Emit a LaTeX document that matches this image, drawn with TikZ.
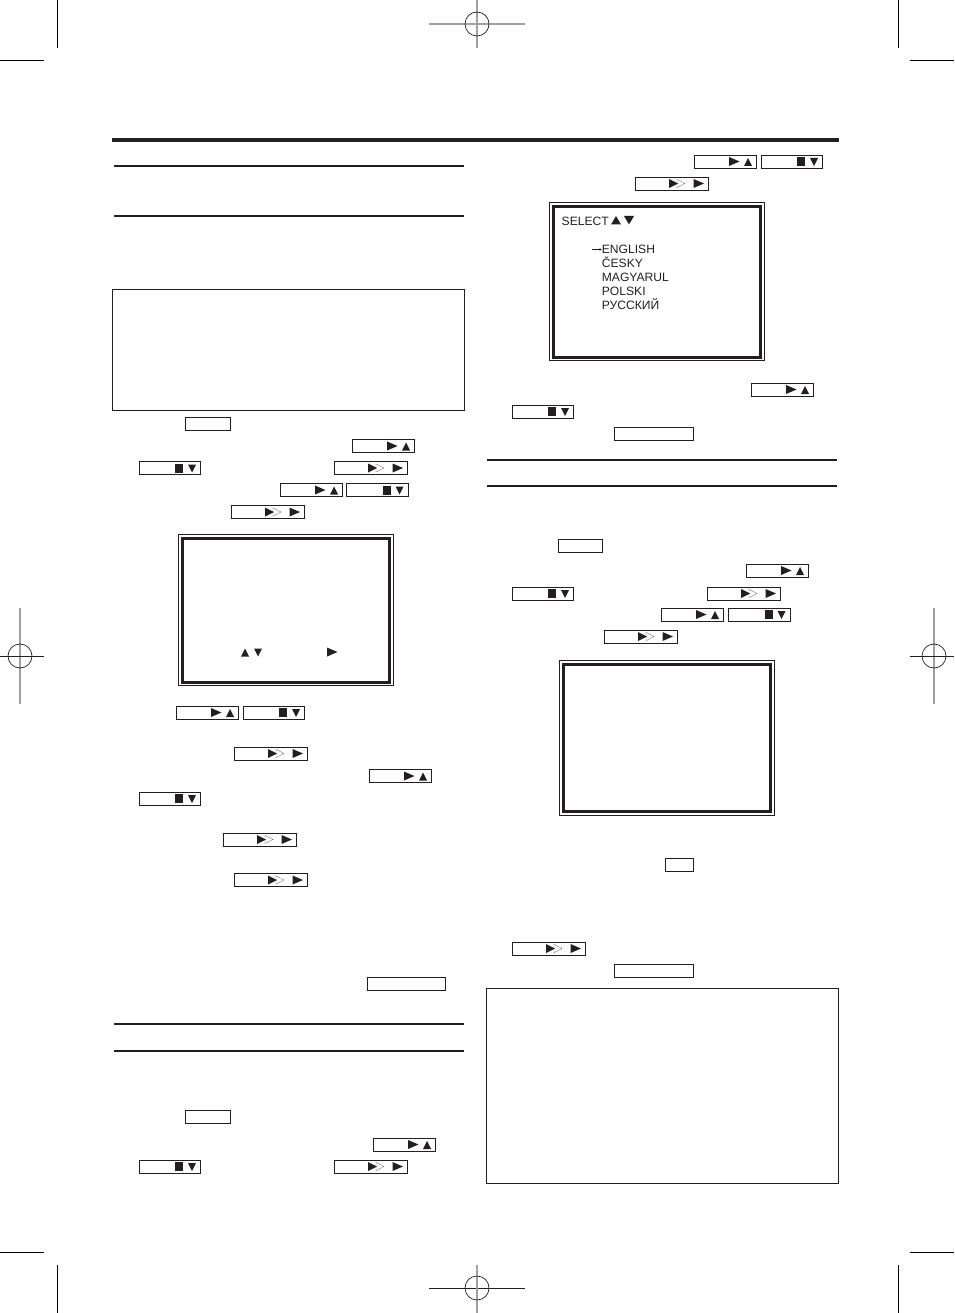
\documentclass[tikz,border=0pt]{standalone}
\usepackage{fontspec}
\usetikzlibrary{arrows.meta}
\setmainfont{Liberation Sans}
\definecolor{ink}{HTML}{231F20}
\definecolor{regmark}{HTML}{A0A0A0}
\tikzset{
  x=1pt,y=-1pt,
  rulethin/.style={draw=ink,line width=1.6pt},
  hairbox/.style={draw=ink,line width=0.7pt,fill=white},
  keybox/.style={draw=ink,line width=0.9pt,fill=white},
  scrouter/.style={draw=ink,line width=0.8pt},
  scrinner/.style={draw=ink,line width=3pt},
  cropmark/.style={draw=black,line width=1pt},
  reggray/.style={draw=regmark,line width=1.1pt},
  regdark/.style={draw=ink,line width=0.7pt},
  glyph/.style={fill=ink,draw=none},
  hollow/.style={draw=ink!70,fill=white,line width=0.3pt},
  menutext/.style={inner sep=0pt,anchor=base west,text=ink,font=\fontsize{12.1}{13}\selectfont}
}
% key frame: left, right, centre y
\newcommand{\keyframe}[3]{\draw[keybox] (#1,#3-6.5) rectangle (#2,#3+6.5);}
\newcommand{\tplay}[2]{\fill[glyph] (#1,#2-4.5) -- (#1+10.5,#2) -- (#1,#2+4.5) -- cycle;}
\newcommand{\tplaysmall}[2]{\fill[glyph] (#1,#2-4.5) -- (#1+9,#2) -- (#1,#2+4.5) -- cycle;}
\newcommand{\tup}[2]{\fill[glyph] (#1-4,#2+4) -- (#1,#2-4) -- (#1+4,#2+4) -- cycle;}
\newcommand{\tdown}[2]{\fill[glyph] (#1-4,#2-4) -- (#1,#2+4) -- (#1+4,#2-4) -- cycle;}
\newcommand{\keyplayup}[2]{\keyframe{#1}{#1+62.2}{#2}\tplay{#1+35}{#2}\tup{#1+54}{#2+0.5}}
\newcommand{\keystop}[2]{\keyframe{#1}{#1+61.6}{#2}\fill[glyph] (#1+36,#2-4.5) rectangle (#1+44,#2+4.5);\tdown{#1+53}{#2+0.5}}
\newcommand{\keyff}[2]{\keyframe{#1}{#1+73.3}{#2}\draw[hollow] (#1+42,#2-4.2) -- (#1+50,#2) -- (#1+42,#2+4.2) -- cycle;\tplaysmall{#1+34}{#2}\tplay{#1+58.5}{#2}}
\newcommand{\keyblank}[3]{\keyframe{#1}{#2-0.6}{#3}}
\begin{document}
\begin{tikzpicture}
\useasboundingbox (0,0) rectangle (954,1313);
% crop marks
\draw[cropmark] (57,0) -- (57,48);
\draw[cropmark] (0,60.5) -- (44,60.5);
\draw[cropmark] (898,0) -- (898,48);
\draw[cropmark] (910,60.5) -- (954,60.5);
\draw[cropmark] (57,1265) -- (57,1313);
\draw[cropmark] (0,1252.5) -- (44,1252.5);
\draw[cropmark] (898,1265) -- (898,1313);
\draw[cropmark] (910,1252.5) -- (954,1252.5);
% registration marks
\draw[reggray] (429,24) -- (525,24);
\draw[reggray] (477,0) -- (477,48);
\draw[regdark] (477,24) circle (12);
\draw[regdark] (429,1288) -- (525,1288);
\draw[reggray] (477,1265) -- (477,1313);
\draw[regdark] (477,1288) circle (12);
\draw[reggray] (20,608) -- (20,704);
\draw[regdark] (0,656) -- (44,656);
\draw[regdark] (20,656) circle (12);
\draw[reggray] (934,608) -- (934,704);
\draw[regdark] (910,656) -- (954,656);
\draw[regdark] (934,656) circle (12);
% header
\fill[ink] (112,138) rectangle (839,142);
% section rules
\draw[rulethin] (114,166) -- (464,166);
\draw[rulethin] (114,216) -- (464,216);
\draw[rulethin] (114,1024) -- (464,1024);
\draw[rulethin] (114,1051) -- (464,1051);
\draw[rulethin] (487,460) -- (836.6,460);
\draw[rulethin] (487,486) -- (836.6,486);
% note boxes
\draw[hairbox] (112.5,289.5) rectangle (464.6,410.5);
\draw[hairbox] (486.5,988.5) rectangle (838.5,1183.5);
% screens
\draw[scrouter] (178.5,534.5) rectangle (393.5,685.5);
\draw[scrinner] (182.5,538.5) rectangle (389.5,682);
\draw[scrouter] (549.5,202.5) rectangle (764.5,360);
\draw[scrinner] (553.5,207) rectangle (760.5,357);
\draw[scrouter] (559.5,660.5) rectangle (774.5,815);
\draw[scrinner] (563.5,664.5) rectangle (770.5,811.5);
% language screen text
\node[menutext] (sel) at (561.5,226) {SELECT};
\fill[glyph] (611,224.5) -- (616,216) -- (621,224.5) -- cycle;
\fill[glyph] (624,216) -- (629,224.5) -- (634,216) -- cycle;
\node[menutext] (en) at (601.7,254) {ENGLISH};
\coordinate (arrowtail) at (592,249.5);
\draw[ink,line width=0.35pt,-{Stealth[length=2.2pt,width=2.5pt]}] (arrowtail) -- (en.west |- arrowtail);
\node[menutext] (cz) at (601.7,268) {ČESKY};
\node[menutext] (hu) at (601.7,282) {MAGYARUL};
\node[menutext] (pl) at (601.7,296) {POLSKI};
\node[menutext] (ru) at (601.7,309.6) {РУССКИЙ};
% symbols on first screen
\tup{245}{652.5}
\tdown{258}{652.5}
\tplay{327}{652}
% keys, left column
\keyblank{185}{231}{423.5}
\keyplayup{352}{446}
\keystop{139}{468}
\keyff{334}{468}
\keyplayup{280}{490}
\keystop{346.5}{490}
\keyff{231}{512}
\keyplayup{176}{712.5}
\keystop{243}{712.5}
\keyff{234}{753.5}
\keyplayup{369}{776}
\keystop{139}{798.5}
\keyff{223}{839.5}
\keyff{234}{880}
\keyblank{367}{446}{983.5}
\keyblank{185}{231}{1116.5}
\keyplayup{373}{1144.5}
\keystop{139}{1166.5}
\keyff{334}{1166.5}
% keys, right column
\keyplayup{694}{161.5}
\keystop{761}{161.5}
\keyff{635}{183.5}
\keyplayup{751}{389.5}
\keystop{512}{411.5}
\keyblank{614}{694}{433.5}
\keyblank{558}{603}{545.5}
\keyplayup{746}{570.5}
\keystop{512}{593.5}
\keyff{707}{593.5}
\keyplayup{661}{614.5}
\keystop{728.5}{614.5}
\keyff{604}{636.5}
\keyblank{665}{694}{864.5}
\keyff{512}{948.5}
\keyblank{614}{694}{970.5}
\end{tikzpicture}
\end{document}
